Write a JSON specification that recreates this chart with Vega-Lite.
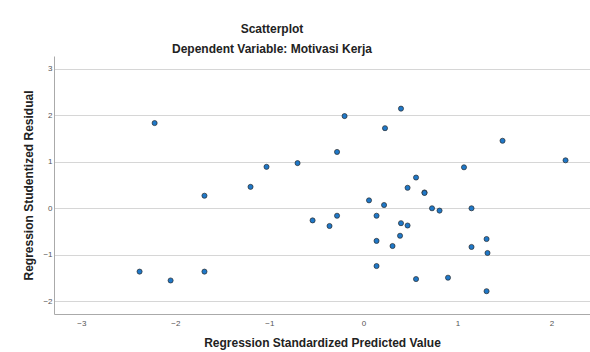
{
  "$schema": "https://vega.github.io/schema/vega-lite/v6.json",
  "width": 536,
  "height": 258,
  "autosize": "none",
  "padding": {"left": 54, "top": 56, "right": 0, "bottom": 38},
  "background": "white",
  "title": {
    "text": "Scatterplot",
    "subtitle": "Dependent Variable: Motivasi Kerja",
    "anchor": "middle",
    "dx": -50,
    "offset": 0,
    "font": "Liberation Sans",
    "fontSize": 12,
    "fontWeight": "bold",
    "color": "#222222",
    "subtitleFont": "Liberation Sans",
    "subtitleFontSize": 12,
    "subtitleFontWeight": "bold",
    "subtitleColor": "#222222",
    "subtitlePadding": 8
  },
  "config": {
    "view": {"stroke": null},
    "axis": {
      "labelFont": "Liberation Sans",
      "titleFont": "Liberation Sans",
      "labelFontSize": 8,
      "labelColor": "#555555",
      "titleFontSize": 12,
      "titleFontWeight": "bold",
      "titleColor": "#222222",
      "domainColor": "#aaaaaa",
      "gridColor": "#d6d6d6",
      "ticks": false
    }
  },
  "data": {
    "values": [
      {"pred": -2.22, "resid": 1.83},
      {"pred": -1.69, "resid": 0.27},
      {"pred": -2.38, "resid": -1.36},
      {"pred": -2.05, "resid": -1.55},
      {"pred": -1.69, "resid": -1.36},
      {"pred": -0.20, "resid": 1.98},
      {"pred": 0.40, "resid": 2.14},
      {"pred": 0.23, "resid": 1.72},
      {"pred": -0.28, "resid": 1.21},
      {"pred": -1.03, "resid": 0.89},
      {"pred": -0.70, "resid": 0.97},
      {"pred": -1.20, "resid": 0.46},
      {"pred": 0.47, "resid": 0.44},
      {"pred": 0.06, "resid": 0.17},
      {"pred": 0.22, "resid": 0.07},
      {"pred": -0.54, "resid": -0.26},
      {"pred": -0.28, "resid": -0.16},
      {"pred": -0.36, "resid": -0.38},
      {"pred": 0.14, "resid": -0.16},
      {"pred": 0.40, "resid": -0.32},
      {"pred": 0.47, "resid": -0.37},
      {"pred": 0.39, "resid": -0.59},
      {"pred": 0.14, "resid": -0.70},
      {"pred": 0.31, "resid": -0.81},
      {"pred": 0.14, "resid": -1.24},
      {"pred": 1.48, "resid": 1.45},
      {"pred": 2.15, "resid": 1.03},
      {"pred": 1.07, "resid": 0.88},
      {"pred": 0.56, "resid": 0.66},
      {"pred": 0.65, "resid": 0.34},
      {"pred": 0.65, "resid": 0.33},
      {"pred": 0.73, "resid": 0.00},
      {"pred": 0.81, "resid": -0.05},
      {"pred": 1.15, "resid": 0.00},
      {"pred": 1.31, "resid": -0.66},
      {"pred": 1.15, "resid": -0.83},
      {"pred": 1.32, "resid": -0.96},
      {"pred": 0.56, "resid": -1.52},
      {"pred": 0.90, "resid": -1.49},
      {"pred": 1.31, "resid": -1.78}
    ]
  },
  "mark": {
    "type": "point",
    "filled": true,
    "shape": "circle",
    "size": 26,
    "fill": "#1f78c8",
    "stroke": "#2b2b2b",
    "strokeWidth": 0.7,
    "opacity": 1
  },
  "encoding": {
    "x": {
      "field": "pred",
      "type": "quantitative",
      "title": "Regression Standardized Predicted Value",
      "scale": {"domain": [-3.29, 2.41], "nice": false, "zero": false},
      "axis": {
        "values": [-3, -2, -1, 0, 1, 2],
        "grid": false,
        "labelPadding": 5,
        "titlePadding": 10,
        "labelFlush": false
      }
    },
    "y": {
      "field": "resid",
      "type": "quantitative",
      "title": "Regression Studentized Residual",
      "scale": {"domain": [-2.27, 3.27], "nice": false, "zero": false},
      "axis": {
        "values": [-2, -1, 0, 1, 2, 3],
        "grid": true,
        "labelPadding": 2,
        "titlePadding": 7,
        "labelFlush": false
      }
    }
  }
}
